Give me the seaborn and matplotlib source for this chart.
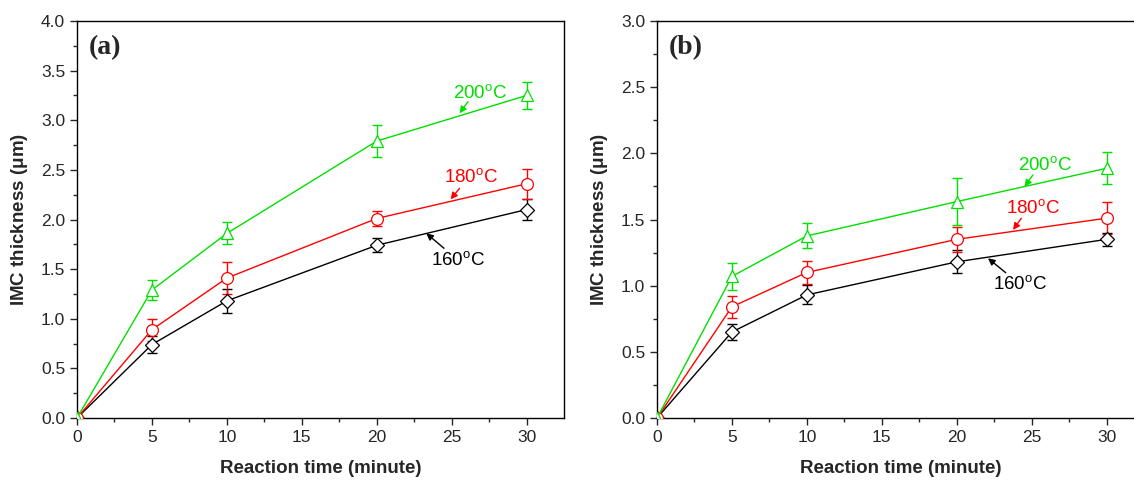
import pandas as pd
import numpy as np
import matplotlib.pyplot as plt
import seaborn as sns

# thời gian phản ứng (phút)
time = [0, 5, 10, 20, 30]
temps = ["160", "180", "200"]

# panel (a)
a_160 = [0, 0.74, 1.18, 1.74, 2.10]
a_160_err = [0, 0.085, 0.12, 0.07, 0.11]
a_180 = [0, 0.89, 1.41, 2.01, 2.36]
a_180_err = [0, 0.11, 0.16, 0.08, 0.15]
a_200 = [0, 1.29, 1.86, 2.79, 3.25]
a_200_err = [0, 0.10, 0.11, 0.16, 0.14]

# panel (b)
b_160 = [0, 0.65, 0.93, 1.18, 1.35]
b_160_err = [0, 0.06, 0.072, 0.088, 0.048]
b_180 = [0, 0.84, 1.10, 1.35, 1.51]
b_180_err = [0, 0.085, 0.09, 0.095, 0.12]
b_200 = [0, 1.07, 1.376, 1.635, 1.887]
b_200_err = [0, 0.105, 0.095, 0.18, 0.12]

colors = {"160": "black", "180": "red", "200": "#00e000"}
markers = {"160": "D", "180": "o", "200": "^"}
msizes = {"160": 7, "180": 8.5, "200": 8.5}

# nhãn: (text x, text y, đuôi mũi tên x, y, đầu mũi tên x, y)
ann_a = {"200": (26.9, 3.27, 26.09, 3.187, 25.53, 3.07),
         "180": (26.3, 2.42, 25.53, 2.314, 24.93, 2.203),
         "160": (25.4, 1.59, 24.49, 1.71, 23.31, 1.861)}
ann_b = {"200": (25.9, 1.91, 25.09, 1.837, 24.53, 1.748),
         "180": (25.1, 1.58, 24.31, 1.509, 23.76, 1.421),
         "160": (24.2, 1.005, 23.27, 1.098, 22.09, 1.207)}


def make_df(vals, errs):
    rows = []
    for t in temps:
        for x, y, e in zip(time, vals[t], errs[t]):
            rows.append({"time": x, "thickness": y, "err": e, "temp": t})
    return pd.DataFrame(rows)


df_a = make_df({"160": a_160, "180": a_180, "200": a_200},
               {"160": a_160_err, "180": a_180_err, "200": a_200_err})
df_b = make_df({"160": b_160, "180": b_180, "200": b_200},
               {"160": b_160_err, "180": b_180_err, "200": b_200_err})

sns.set_style("ticks")
plt.rcParams['font.family'] = ['Liberation Sans', 'DejaVu Sans']
plt.rcParams['mathtext.fontset'] = 'custom'
plt.rcParams['mathtext.rm'] = 'Liberation Sans'

fig = plt.figure(figsize=(11.34, 4.8), dpi=100)
ax_a = fig.add_axes([77 / 1134, 62 / 480, 487 / 1134, 397 / 480])
ax_b = fig.add_axes([657 / 1134, 62 / 480, 487 / 1134, 397 / 480])


def draw(ax, df, ymax, ann, label):
    for t in temps:
        d = df[df["temp"] == t]
        ax.errorbar(d["time"], d["thickness"], yerr=d["err"], fmt="none",
                    ecolor=colors[t], elinewidth=1, capsize=3.5, capthick=1, zorder=2)
    sns.lineplot(data=df, x="time", y="thickness", hue="temp", style="temp",
                 palette=colors, markers=markers, dashes=False, ax=ax,
                 legend=False, linewidth=1, markersize=8,
                 markerfacecolor="white", markeredgewidth=0.9, zorder=3)
    for line, t in zip(ax.get_lines()[-3:], temps):
        line.set_markeredgecolor(colors[t])
        line.set_markersize(msizes[t])
    for t in temps:
        tx, ty, qx, qy, px, py = ann[t]
        ax.text(tx, ty, t + "$^\\mathregular{o}$C", color=colors[t], fontsize=13.5,
                ha="center", va="center")
        ax.annotate("", xy=(px, py), xytext=(qx, qy),
                    arrowprops=dict(arrowstyle="-|>", color=colors[t], lw=1,
                                    mutation_scale=10, shrinkA=0, shrinkB=0))
    ax.set_xlim(0, 32.5)
    ax.set_ylim(0, ymax)
    ax.set_xticks([0, 5, 10, 15, 20, 25, 30])
    ax.set_xticks(np.arange(0, 32.5, 2.5), minor=True)
    ax.set_yticks(np.arange(0, ymax + 0.01, 0.5))
    ax.set_yticks(np.arange(0, ymax + 0.01, 0.25), minor=True)
    ax.yaxis.set_major_formatter(plt.FormatStrFormatter("%.1f"))
    ax.tick_params(which="major", direction="out", length=5, width=1, labelsize=12.5,
                   top=False, right=False)
    ax.tick_params(which="minor", direction="out", length=3, width=1,
                   top=False, right=False)
    for s in ax.spines.values():
        s.set_visible(True)
        s.set_linewidth(1)
        s.set_color("black")
    ax.set_xlabel("Reaction time (minute)", fontsize=13.5, fontweight="bold", labelpad=11)
    ax.set_ylabel("IMC thickness ($\\mathregular{\\mu}$m)", fontsize=13.5,
                  fontweight="bold", labelpad=8)
    ax.text(0.025, 0.965, label, transform=ax.transAxes, fontsize=20,
            fontweight="bold", family="Liberation Serif", ha="left", va="top")


draw(ax_a, df_a, 4.0, ann_a, "(a)")
draw(ax_b, df_b, 3.0, ann_b, "(b)")

fig.savefig("out.png", dpi=100)
